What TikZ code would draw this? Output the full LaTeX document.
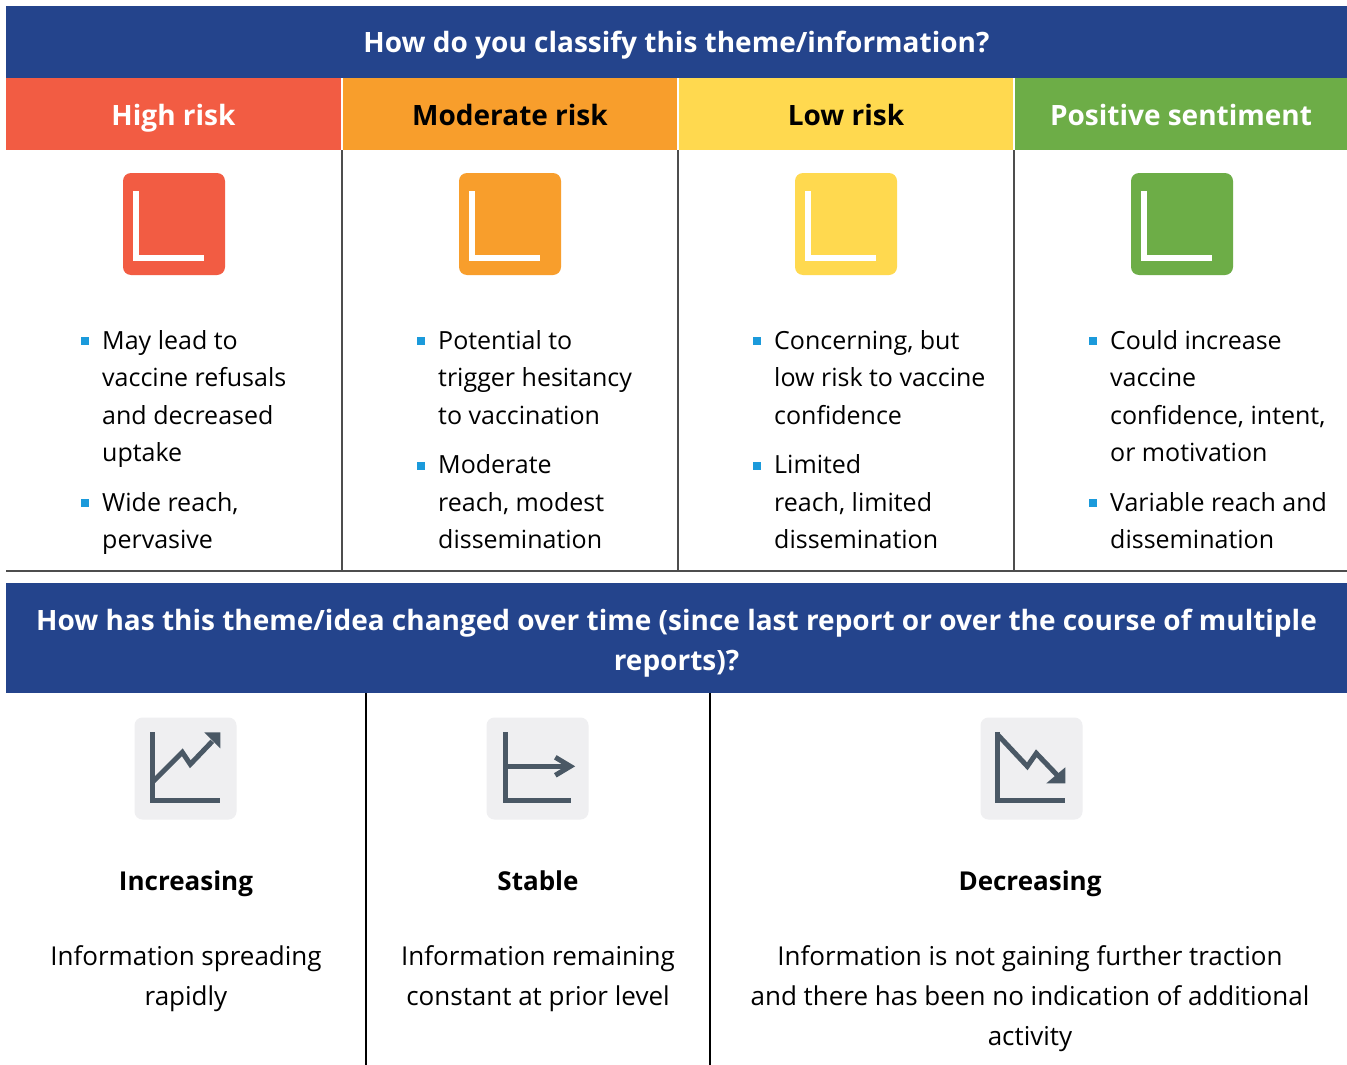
\documentclass[tikz,border=0pt]{standalone}
\usepackage{fontspec}
\setmainfont{Open Sans}
\usetikzlibrary{positioning}
\definecolor{hdrblue}{HTML}{24448C}
\definecolor{riskred}{HTML}{F25C43}
\definecolor{riskorange}{HTML}{F89E2C}
\definecolor{riskyellow}{HTML}{FFD94F}
\definecolor{riskgreen}{HTML}{6DAD47}
\definecolor{bulletblue}{HTML}{1B9ADB}
\definecolor{trendbg}{HTML}{EFEFF1}
\definecolor{trendline}{HTML}{4A5865}
\definecolor{rulegray}{HTML}{4D4D4D}
\tikzset{
  band/.style={fill=hdrblue, inner sep=0pt, minimum width=1341pt},
  bandtext/.style={text=white, inner sep=0pt, align=center,
    font=\fontsize{28}{40}\selectfont\bfseries},
  riskhead/.style={inner sep=0pt, minimum height=72pt, text height=26pt, text depth=4pt,
    font=\fontsize{28}{34}\selectfont\bfseries},
  iconbox/.style={minimum size=102pt, inner sep=0pt, rounded corners=8pt},
  lmark/.style={white, line width=6pt, miter limit=10},
  bulletsq/.style={fill=bulletblue, minimum size=8pt, inner sep=0pt},
  bullettext/.style={anchor=north west, inner sep=0pt, align=left,
    font=\fontsize{25}{37.5}\selectfont},
  trendpen/.style={trendline, line width=5pt, miter limit=10},
  trendname/.style={anchor=base, inner sep=0pt, font=\fontsize{26}{40}\selectfont\bfseries},
  trenddesc/.style={anchor=north, inner sep=0pt, align=center,
    font=\fontsize{26}{40}\selectfont},
}
\begin{document}
\begin{tikzpicture}[x=1pt, y=-1pt]
\useasboundingbox[fill=white] (0,0) rectangle (1347,1065);
% classification header
\node[band, minimum height=72pt] (classhead) at (676.5,42) {};
\node[bandtext, anchor=base] (classtitle) at (676.5,53) {How do you classify this theme/information?};
\node[riskhead, fill=riskred, text=white, minimum width=335pt] (high) at (173.5,114) {High risk};
\node[riskhead, fill=riskorange, minimum width=334pt] (moderate) at (510,114) {Moderate risk};
\node[riskhead, fill=riskyellow, minimum width=334pt] (low) at (846,114) {Low risk};
\node[riskhead, fill=riskgreen, text=white, minimum width=332pt] (positive) at (1181,114) {Positive sentiment};
% risk icons
\foreach \c/\x/\n in {riskred/174/hi, riskorange/510/mo, riskyellow/846/lo, riskgreen/1182/po} {
  \node[iconbox, fill=\c] (\n icon) at (\x,224) {};
  \draw[lmark] ([shift={(-38,-33)}]\n icon.center) -- ++(0,67) -- ++(68,0);
}
% bullets
\node[bulletsq] (hibul1) at (85,341) {};
\node[bullettext] (hitext1) at (102,330) {May lead to\\vaccine refusals\\and decreased\\uptake};
\node[bulletsq] (hibul2) at (85,503) {};
\node[bullettext] (hitext2) at (102,492) {Wide reach,\\pervasive};
\node[bulletsq] (mobul1) at (421,341) {};
\node[bullettext] (motext1) at (438,330) {Potential to\\trigger hesitancy\\to vaccination};
\node[bulletsq] (mobul2) at (421,465.5) {};
\node[bullettext] (motext2) at (438,454.5) {Moderate\\reach, modest\\dissemination};
\node[bulletsq] (lobul1) at (757,341) {};
\node[bullettext] (lotext1) at (774,330) {Concerning, but\\low risk to vaccine\\confidence};
\node[bulletsq] (lobul2) at (757,465.5) {};
\node[bullettext] (lotext2) at (774,454.5) {Limited\\reach, limited\\dissemination};
\node[bulletsq] (pobul1) at (1093,341) {};
\node[bullettext] (potext1) at (1110,330) {Could increase\\vaccine\\confidence, intent,\\or motivation};
\node[bulletsq] (pobul2) at (1093,503) {};
\node[bullettext] (potext2) at (1110,492) {Variable reach and\\dissemination};
% column rules
\draw[rulegray, line width=2pt] (342,150) -- (342,571);
\draw[rulegray, line width=2pt] (678,150) -- (678,571);
\draw[rulegray, line width=2pt] (1014,150) -- (1014,571);
\draw[rulegray, line width=2pt] (6,571) -- (1347,571);
% trend header
\node[band, minimum height=110pt] (trendhead) at (676.5,638) {};
\node[bandtext] (trendtitle) at (676.5,643)
  {How has this theme/idea changed over time (since last report or over the course of multiple\\reports)?};
\draw[black, line width=1.5pt] (366,693) -- (366,1065);
\draw[black, line width=1.5pt] (710,693) -- (710,1065);
% trend icons
\node[iconbox, fill=trendbg] (incicon) at (185.5,768.5) {};
\begin{scope}[shift={(incicon.north west)}]
  \draw[trendpen] (18,15) -- (18,83) -- (86,83);
  \draw[trendpen] (18,65) -- (48,35) -- (56,47) -- (78,24);
  \fill[trendline] (70,15) -- (86,15) -- (86,31) -- cycle;
\end{scope}
\node[iconbox, fill=trendbg] (staicon) at (537.5,768.5) {};
\begin{scope}[shift={(staicon.north west)}]
  \draw[trendpen] (19,15) -- (19,83) -- (85,83);
  \draw[trendpen] (19,49) -- (83,49);
  \draw[trendpen] (69,40) -- (84,49) -- (69,58);
\end{scope}
\node[iconbox, fill=trendbg] (decicon) at (1031.5,768.5) {};
\begin{scope}[shift={(decicon.north west)}]
  \draw[trendpen] (17,15) -- (17,83) -- (85,83);
  \draw[trendpen] (17,17) -- (47,49) -- (56,36) -- (78,59);
  \fill[trendline] (85,50) -- (85,66) -- (66,66) -- cycle;
\end{scope}
% trend labels
\node[trendname] (incname) at (186,890) {Increasing};
\node[trenddesc] (incdesc) at (186,945) {Information spreading\\rapidly};
\node[trendname] (staname) at (538,890) {Stable};
\node[trenddesc] (stadesc) at (538,945) {Information remaining\\constant at prior level};
\node[trendname] (decname) at (1030,890) {Decreasing};
\node[trenddesc] (decdesc) at (1030,945) {Information is not gaining further traction\\and there has been no indication of additional\\activity};
\end{tikzpicture}
\end{document}
